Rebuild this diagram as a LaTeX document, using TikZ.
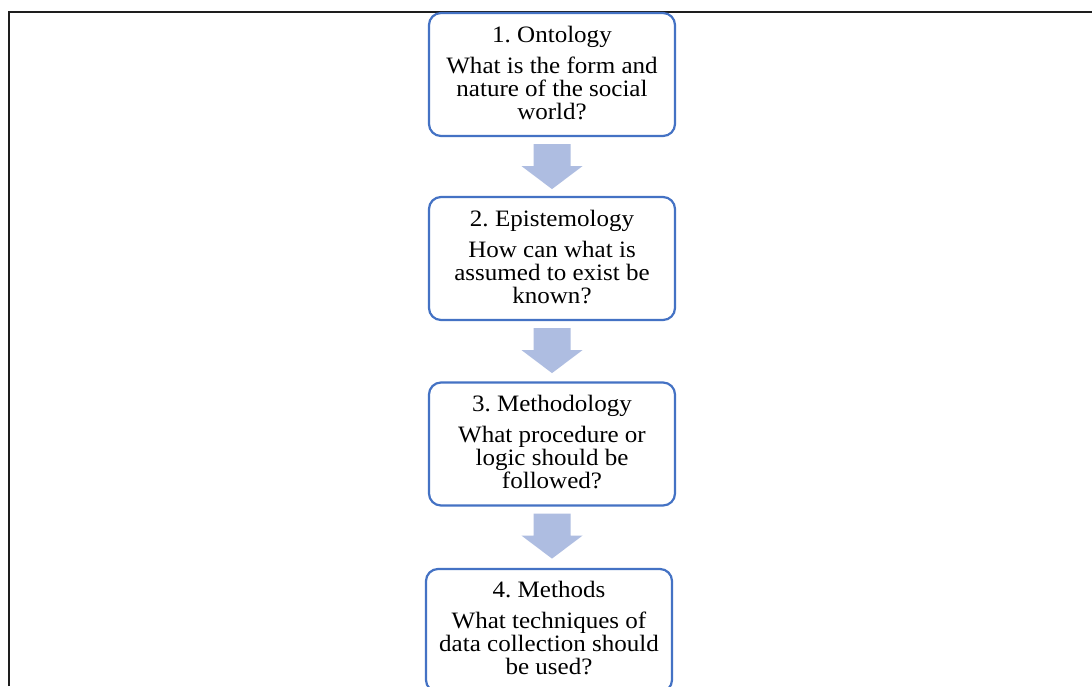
\documentclass[tikz,border=0pt]{standalone}
\usepackage{fontspec}
\setmainfont{Liberation Serif}
\frenchspacing
\usetikzlibrary{calc}
\definecolor{boxblue}{RGB}{68,114,196}
\definecolor{arrowfill}{RGB}{174,189,225}
\definecolor{framegray}{RGB}{30,30,30}
\tikzset{
  stepbox/.style={draw=boxblue, line width=2.2pt, rounded corners=12pt, fill=white,
    minimum width=246pt, minimum height=123pt, inner sep=0pt},
  steptext/.style={align=center, font=\fontsize{23.5}{23}\selectfont\frenchspacing, text=black, inner sep=0pt,
    xscale=1.065, transform shape},
  blockarrow/.pic={\fill[arrowfill] (-18.5,7) -- (18.5,7) -- (18.5,29) -- (30.5,29) -- (0,52) -- (-30.5,29) -- (-18.5,29) -- cycle;}
}
\begin{document}
\begin{tikzpicture}[x=1pt,y=-1pt]
\useasboundingbox (0,0) rectangle (1092,686);
\clip (0,0) rectangle (1092,686);
\fill[white] (0,0) rectangle (1092,686);
% frame
\coordinate (ftl) at (9,12);
\coordinate (ftr) at (1092,12);
\coordinate (fbl) at (9,686);
\draw[framegray, line width=2pt] (fbl) -- (ftl) -- (ftr);
% boxes
\node[stepbox] (b1) at (552,74.5) {};
\node[stepbox] (b2) at (552,258.5) {};
\node[stepbox] (b3) at (552,444) {};
\node[stepbox] (b4) at (549,630.5) {};
\node[steptext] (t1) at (552,73) {1. Ontology\\[8pt]What is the form and\\nature of the social\\world?};
\node[steptext] (t2) at (552,257) {2. Epistemology\\[8pt]How can what is\\assumed to exist be\\known?};
\node[steptext] (t3) at (552,442) {3. Methodology\\[8pt]What procedure or\\logic should be\\followed?};
\node[steptext, anchor=north] (t4) at (549,581) {4. Methods\\[8pt]What techniques of\\data collection should\\be used?};
% arrows
\pic (a1) at (b1.south) {blockarrow};
\pic (a2) at (b2.south) {blockarrow};
\pic (a3) at (b3.south) {blockarrow};
\end{tikzpicture}
\end{document}
